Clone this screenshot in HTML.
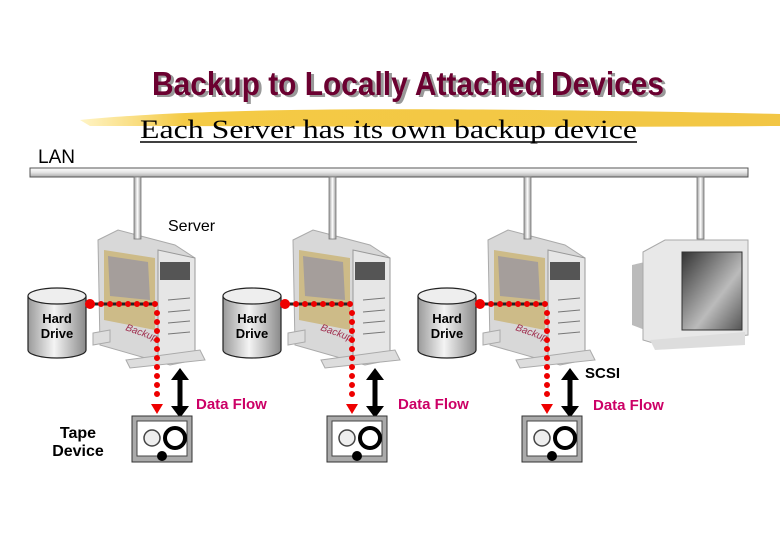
<!DOCTYPE html>
<html><head><meta charset="utf-8"><style>
html,body{margin:0;padding:0;background:#fff;width:780px;height:540px;overflow:hidden}
</style></head><body>
<svg width="780" height="540" xmlns="http://www.w3.org/2000/svg" font-family="Liberation Sans, sans-serif">
<defs>
<linearGradient id="cyl" x1="0" x2="1"><stop offset="0" stop-color="#9a9a9a"/><stop offset="0.45" stop-color="#f4f4f4"/><stop offset="1" stop-color="#8a8a8a"/></linearGradient>
<linearGradient id="bar" x1="0" y1="0" x2="0" y2="1"><stop offset="0" stop-color="#fff"/><stop offset="0.5" stop-color="#e4e4e4"/><stop offset="1" stop-color="#aaa"/></linearGradient>
<linearGradient id="vbar" x1="0" x2="1"><stop offset="0" stop-color="#999"/><stop offset="0.5" stop-color="#fff"/><stop offset="1" stop-color="#999"/></linearGradient>
<linearGradient id="scr" x1="0" y1="0" x2="1" y2="1"><stop offset="0" stop-color="#333"/><stop offset="0.6" stop-color="#bbb"/><stop offset="1" stop-color="#555"/></linearGradient>
<linearGradient id="brush" x1="0" x2="1"><stop offset="0" stop-color="#fff3c0"/><stop offset="0.15" stop-color="#f3c430"/><stop offset="1" stop-color="#f0c030"/></linearGradient>
<g id="srv">
 <polygon points="98,240 118,230 175,245 195,258 195,360 170,365 100,345" fill="#d8d8d8" stroke="#aaa"/>
 <polygon points="158,250 195,258 195,355 158,360" fill="#e6e6e6" stroke="#999"/>
 <polygon points="104,250 155,258 155,330 104,320" fill="#cdbb88"/>
 <polygon points="108,256 148,262 150,300 110,296" fill="#8a8aa8" opacity="0.6"/>
 <rect x="160" y="262" width="30" height="18" fill="#555"/>
 <g stroke="#777"><line x1="168" y1="300" x2="190" y2="298"/><line x1="168" y1="312" x2="190" y2="310"/><line x1="168" y1="323" x2="190" y2="321"/><line x1="168" y1="334" x2="190" y2="332"/></g>
 <polygon points="93,333 110,330 110,342 93,345" fill="#ddd" stroke="#aaa"/>
 <polygon points="126,360 200,350 205,360 130,368" fill="#ddd" stroke="#aaa"/>
 <text x="125" y="330" font-size="10" fill="#a03050" font-style="italic" transform="rotate(20 125 330)">Backup</text>
 <rect x="134" y="177" width="7" height="62" fill="url(#vbar)" stroke="#777" stroke-width="0.8"/>
 <path d="M28,296 v54 a29,8 0 0 0 58,0 v-54" fill="url(#cyl)" stroke="#222" stroke-width="1.2"/>
 <ellipse cx="57" cy="296" rx="29" ry="8" fill="#eee" stroke="#222" stroke-width="1.2"/>
 <text x="57" y="323" font-size="13" font-weight="bold" text-anchor="middle">Hard</text>
 <text x="57" y="338" font-size="13" font-weight="bold" text-anchor="middle">Drive</text>
 <line x1="90" y1="304" x2="155" y2="304" stroke="#222" stroke-width="3"/>
 <line x1="92" y1="304" x2="157" y2="304" stroke="#e00" stroke-width="6" stroke-linecap="round" stroke-dasharray="0,9"/>
 <circle cx="90" cy="304" r="5" fill="#e00"/>
 <line x1="157" y1="313" x2="157" y2="400" stroke="#e00" stroke-width="6" stroke-linecap="round" stroke-dasharray="0,9"/>
 <polygon points="151,404 163,404 157,414" fill="#e00"/>
 <line x1="180" y1="378" x2="180" y2="408" stroke="#000" stroke-width="5"/>
 <polygon points="171,380 189,380 180,368" fill="#000"/>
 <polygon points="171,406 189,406 180,418" fill="#000"/>
 <rect x="132" y="416" width="60" height="46" fill="#aaa" stroke="#333"/>
 <rect x="137" y="421" width="50" height="35" fill="#fff" stroke="#444"/>
 <circle cx="152" cy="438" r="8" fill="#eee" stroke="#444" stroke-width="1.5"/>
 <circle cx="175" cy="438" r="10" fill="#fff" stroke="#000" stroke-width="4"/>
 <circle cx="162" cy="456" r="5" fill="#000"/>
</g>
</defs>
<path d="M80,120 C200,108 400,106 780,114 L780,126 C500,128 250,126 90,126 Z" fill="url(#brush)" opacity="0.9"/>
<text x="411" y="97" font-size="33" font-weight="bold" font-family="Liberation Sans Narrow, Liberation Sans, sans-serif" fill="#999" text-anchor="middle" textLength="512" lengthAdjust="spacingAndGlyphs">Backup to Locally Attached Devices</text>
<text x="408" y="95" font-size="33" font-weight="bold" font-family="Liberation Sans Narrow, Liberation Sans, sans-serif" fill="#6b0030" text-anchor="middle" textLength="512" lengthAdjust="spacingAndGlyphs">Backup to Locally Attached Devices</text>
<text x="140" y="138" font-size="26" font-family="Liberation Serif, serif" textLength="497" lengthAdjust="spacingAndGlyphs">Each Server has its own backup device</text>
<line x1="140" y1="142" x2="637" y2="142" stroke="#000" stroke-width="1.5"/>
<text x="38" y="163" font-size="19">LAN</text>
<rect x="30" y="168" width="718" height="9" fill="url(#bar)" stroke="#555"/>
<use href="#srv"/>
<use href="#srv" x="195"/>
<use href="#srv" x="390"/>
<rect x="697" y="177" width="7" height="62" fill="url(#vbar)" stroke="#777" stroke-width="0.8"/>
<polygon points="632,265 645,262 645,330 632,325" fill="#bbb"/>
<polygon points="643,252 665,240 748,240 748,335 660,345 643,340" fill="#e8e8e8" stroke="#aaa"/>
<rect x="682" y="252" width="60" height="78" fill="url(#scr)" stroke="#333"/>
<polygon points="650,340 745,332 745,345 655,350" fill="#ddd"/>
<text x="168" y="231" font-size="16">Server</text>
<text x="585" y="378" font-size="15" font-weight="bold">SCSI</text>
<text x="78" y="438" font-size="16" font-weight="bold" text-anchor="middle">Tape</text>
<text x="78" y="456" font-size="16" font-weight="bold" text-anchor="middle">Device</text>
<g font-size="15" font-weight="bold" fill="#cc0066"><text x="196" y="409">Data Flow</text><text x="398" y="409">Data Flow</text><text x="593" y="410">Data Flow</text></g>
</svg>
</body></html>
